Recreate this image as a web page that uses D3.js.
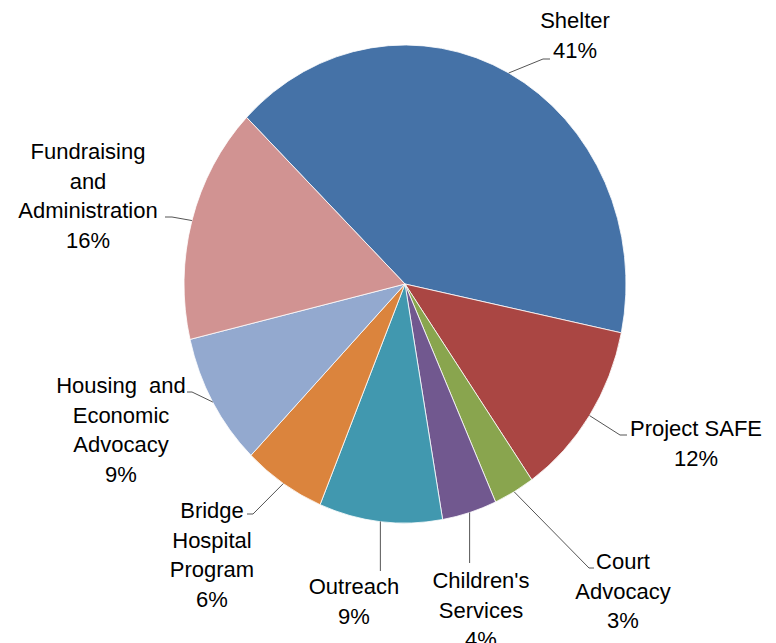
<!DOCTYPE html>
<html>
<head>
<meta charset="utf-8">
<script src="https://cdn.jsdelivr.net/npm/d3@7"></script>
<style>
  body { margin: 0; background: #fff; }
  text { font-family: Arial, 'Liberation Sans', sans-serif; font-size: 22px; fill: #000; }
</style>
</head>
<body>
<div id="chart"></div>
<script>
const categories = [
  'Shelter', 'Project SAFE', 'Court Advocacy', "Children's Services",
  'Outreach', 'Bridge Hospital Program', 'Housing and Economic Advocacy',
  'Fundraising and Administration'
]
const values = [41, 12, 3, 4, 9, 6, 9, 16]
const labelLines = [
  ['Shelter'],
  ['Project SAFE'],
  ['Court', 'Advocacy'],
  ["Children's", 'Services'],
  ['Outreach'],
  ['Bridge', 'Hospital', 'Program'],
  ['Housing  and', 'Economic', 'Advocacy'],
  ['Fundraising', 'and', 'Administration']
]
const colors = ['#4572a7', '#aa4643', '#89a54e', '#71588f', '#4198af', '#db843d', '#93a9cf', '#d19392']

// label layout: text centre x, first baseline y, leader elbow, leader end x
const labelLayout = [
  { x: 575, y: 28, elbow: [543, 59], endX: 550 },
  { x: 696, y: 436, elbow: [620, 435], endX: 627 },
  { x: 623, y: 569, elbow: [589, 568], endX: 594 },
  { x: 481, y: 588, elbow: null, endY: 563 },
  { x: 354, y: 594, elbow: null, endY: 571 },
  { x: 212, y: 518, elbow: [253, 514], endX: 247 },
  { x: 121, y: 393, elbow: [192, 392], endX: 187 },
  { x: 88, y: 159, elbow: [172, 217], endX: 165 }
]

const width = 776
const height = 643
const cx = 405
const cy = 284
const rx = 221
const ry = 239
const lineHeight = 29.5
const startAngle = -45.8 * Math.PI / 180

const svg = d3
  .select('#chart')
  .append('svg')
  .attr('width', width)
  .attr('height', height)

const pie = d3
  .pie()
  .sort(null)
  .startAngle(startAngle)
  .endAngle(startAngle + 2 * Math.PI)

const arcs = pie(values)

const arc = d3.arc().innerRadius(0).outerRadius(rx)

const colorScale = d3.scaleOrdinal().domain(categories).range(colors)

svg
  .append('g')
  .attr('transform', `translate(${cx},${cy}) scale(1,${ry / rx})`)
  .selectAll('path')
  .data(arcs)
  .enter()
  .append('path')
  .attr('d', arc)
  .attr('fill', (d, i) => colorScale(categories[i]))
  .attr('stroke', '#fff')
  .attr('stroke-width', 0.8)
  .attr('vector-effect', 'non-scaling-stroke')

// point on the (elliptical) pie edge at the slice's middle angle
function edgePoint(d) {
  const a = (d.startAngle + d.endAngle) / 2
  return [cx + rx * Math.sin(a), cy - ry * Math.cos(a)]
}

const labels = svg.append('g')

arcs.forEach((d, i) => {
  const lay = labelLayout[i]
  const p = edgePoint(d)
  let pts
  if (lay.elbow) {
    pts = [p, lay.elbow, [lay.endX, lay.elbow[1]]]
  } else {
    pts = [p, [p[0], lay.endY]]
  }
  labels
    .append('path')
    .attr('d', d3.line()(pts))
    .attr('fill', 'none')
    .attr('stroke', '#555')
    .attr('stroke-width', 1)

  const lines = labelLines[i].concat([values[i] + '%'])
  const t = labels
    .append('text')
    .attr('text-anchor', 'middle')
    .attr('x', lay.x)
    .attr('y', lay.y)
  lines.forEach((l, j) => {
    t.append('tspan')
      .attr('x', lay.x)
      .attr('dy', j === 0 ? 0 : lineHeight)
      .style('white-space', 'pre')
      .text(l)
  })
})
</script>
</body>
</html>
